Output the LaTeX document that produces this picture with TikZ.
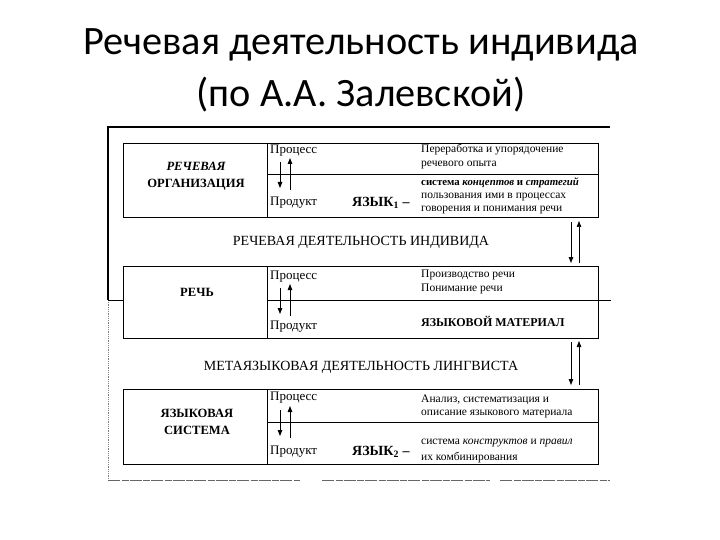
\documentclass[tikz,border=0pt]{standalone}
\usepackage{fontspec}
\setmainfont{Liberation Serif}
\newfontfamily\titlefont{Carlito}
\usetikzlibrary{arrows.meta}
\begin{document}
\begin{tikzpicture}[x=1pt,y=-1pt,
  boxline/.style={line width=0.9pt},
  tip/.style={-{Triangle[length=6pt,width=4.5pt]},line width=0.9pt},
  lbl/.style={inner sep=0pt,font=\fontsize{13}{14}\selectfont,anchor=west},
  big/.style={inner sep=0pt,font=\fontsize{12.6}{16.5}\selectfont\bfseries,align=center},
  rt/.style={inner sep=0pt,font=\fontsize{11.5}{12}\selectfont,anchor=west},
  mid/.style={inner sep=0pt,font=\fontsize{14}{16}\selectfont},
  lang/.style={inner sep=0pt,font=\fontsize{14}{16}\selectfont\bfseries,anchor=west}]
\useasboundingbox (0,0) rectangle (720,540);
% title
\node[inner sep=0pt,font=\titlefont\fontsize{40.3}{44}\selectfont] (t1) at (361,45) {Речевая деятельность индивида};
\node[inner sep=0pt,font=\titlefont\fontsize{40.3}{44}\selectfont] (t2) at (361,95) {(по А.А. Залевской)};
% frame
\coordinate (ftl) at (108,127);
\coordinate (ftr) at (610,127);
\coordinate (fml) at (108,300);
\coordinate (fbl) at (108,480);
\coordinate (fg1) at (300,480);
\coordinate (fg2) at (322,480);
\coordinate (fg3) at (490,480);
\coordinate (fg4) at (500,480);
\coordinate (fbr) at (610,480);
\draw[line width=1.1pt] (ftr) -- (ftl) -- (fml);
\draw[gray,line width=0.8pt,densely dotted] (fml) -- (fbl);
\draw[gray!80!black,line width=0.9pt,dash pattern=on 12pt off 1.5pt on 7pt off 1pt] (fbl) -- (fg1) (fg2) -- (fg3) (fg4) -- (fbr);
% box 1
\node[boxline,draw,minimum width=475pt,minimum height=74pt,inner sep=0pt] (b1) at (360.5,180) {};
\coordinate (b1d) at (267,143);
\coordinate (b1e) at (267,217);
\draw[boxline] (b1d) -- (b1e);
\coordinate (b1m) at (267,174);
\draw[boxline] (b1m) -- (b1.east |- b1m);
% box 2
\node[boxline,draw,minimum width=475pt,minimum height=72pt,inner sep=0pt] (b2) at (360.5,302) {};
\coordinate (b2d) at (267,266);
\coordinate (b2e) at (267,338);
\draw[boxline] (b2d) -- (b2e);
\coordinate (b2m) at (267,300);
\coordinate (b2r) at (611,300);
\draw[boxline] (b2m) -- (b2r);
\draw[boxline] (fml) -- (b2.west |- fml);
% box 3
\node[boxline,draw,minimum width=475pt,minimum height=75pt,inner sep=0pt] (b3) at (360.5,426.5) {};
\coordinate (b3d) at (267,389);
\coordinate (b3e) at (267,464);
\draw[boxline] (b3d) -- (b3e);
\coordinate (b3m) at (267,422);
\draw[boxline] (b3m) -- (b3.east |- b3m);
% inner arrows
\foreach \n/\m in {1/174,2/300,3/422}{
  \coordinate (da\n) at (280,\m-12);
  \coordinate (db\n) at (280,\m+14);
  \coordinate (ua\n) at (290,\m+16);
  \coordinate (ub\n) at (290,\m-16);
  \draw[tip] (da\n) -- (db\n);
  \draw[tip] (ua\n) -- (ub\n);
}
% right arrows
\coordinate (r1a) at (571,222);
\coordinate (r1b) at (571,263);
\coordinate (r1c) at (579,263);
\coordinate (r1d) at (579,221);
\draw[tip] (r1a) -- (r1b);
\draw[tip,line width=0.7pt] (r1c) -- (r1d);
\coordinate (r2a) at (571,342);
\coordinate (r2b) at (571,385);
\coordinate (r2c) at (579,385);
\coordinate (r2d) at (579,341);
\draw[tip] (r2a) -- (r2b);
\draw[tip,line width=0.7pt] (r2c) -- (r2d);
% box 1 texts
\node[big] (o1) at (196,176) {\itshape РЕЧЕВАЯ\\ОРГАНИЗАЦИЯ};
\node[lbl] (p1) at (270,151) {Процесс};
\node[lbl] (q1) at (270,203) {Продукт};
\node[lang] (y1) at (352,203) {ЯЗЫК\textsubscript{1} –};
\node[rt] (s1a) at (421,150) {Переработка и упорядочение};
\node[rt] (s1b) at (421,165) {речевого опыта};
\node[rt,font=\fontsize{10.8}{12}\selectfont] (s1c) at (421,183) {\bfseries система \itshape концептов \upshape и \itshape стратегий};
\node[rt] (s1d) at (421,197) {пользования ими в процессах};
\node[rt] (s1e) at (421,210) {говорения и понимания речи};
% middle label 1
\node[mid] (m1) at (361,242) {РЕЧЕВАЯ ДЕЯТЕЛЬНОСТЬ ИНДИВИДА};
% box 2 texts
\node[big] (o2) at (197,292) {РЕЧЬ};
\node[lbl] (p2) at (270,277) {Процесс};
\node[lbl] (q2) at (270,327) {Продукт};
\node[rt] (s2a) at (421,275) {Производство речи};
\node[rt] (s2b) at (421,289) {Понимание речи};
\node[rt,font=\fontsize{12}{13}\selectfont\bfseries] (s2c) at (421,321) {ЯЗЫКОВОЙ МАТЕРИАЛ};
% middle label 2
\node[mid] (m2) at (361,367) {МЕТАЯЗЫКОВАЯ ДЕЯТЕЛЬНОСТЬ ЛИНГВИСТА};
% box 3 texts
\node[big] (o3) at (197,422) {ЯЗЫКОВАЯ\\СИСТЕМА};
\node[lbl] (p3) at (270,398) {Процесс};
\node[lbl] (q3) at (270,452) {Продукт};
\node[lang] (y3) at (352,452) {ЯЗЫК\textsubscript{2} –};
\node[rt] (s3a) at (421,400) {Анализ, систематизация и};
\node[rt] (s3b) at (421,414) {описание языкового материала};
\node[rt] (s3c) at (421,443) {система \itshape конструктов \upshape и \itshape правил};
\node[rt] (s3d) at (421,458) {их комбинирования};
\end{tikzpicture}
\end{document}
